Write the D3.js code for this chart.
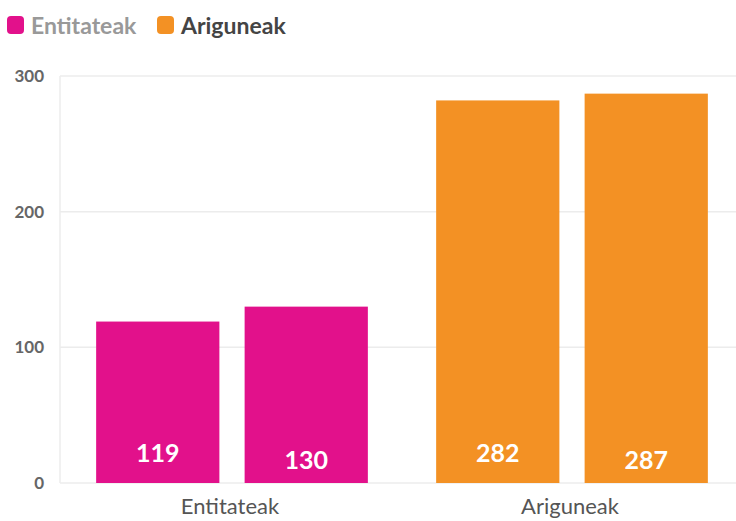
<!DOCTYPE html>
<html>
<head>
<meta charset="utf-8">
<script src="https://cdn.jsdelivr.net/npm/d3@7"></script>
<style>
  body { margin: 0; background: #fff; font-family: Lato, "Open Sans", sans-serif; }
</style>
</head>
<body>
<div id="chart"></div>
<script>
// data
const categories = ["Entitateak", "Ariguneak"]
const series = ["a", "b"]
const values = [[119, 130], [282, 287]]
const colours = ["#e2118b", "#f39124"]
const yTicks = [0, 100, 200, 300]

const width = 736
const height = 521
const margin = {top: 76, right: -6, bottom: 38, left: 60}

const svg = d3.select("#chart").append("svg")
    .attr("width", width)
    .attr("height", height)

const x = d3.scaleBand()
    .domain(categories)
    .range([margin.left + 2, width - margin.right])

const xInner = d3.scaleBand()
    .domain(series)
    .range([0, x.bandwidth()])
    .paddingInner(0.17)
    .paddingOuter(0.23)

const y = d3.scaleLinear()
    .domain([0, 300])
    .range([height - margin.bottom, margin.top])

// gridlines
svg.append("g")
    .selectAll("line")
    .data(yTicks)
    .join("line")
        .attr("x1", margin.left)
        .attr("x2", width)
        .attr("y1", d => y(d))
        .attr("y2", d => y(d))
        .attr("stroke", "#ececec")
        .attr("stroke-width", 1.5)

// left axis line
svg.append("line")
    .attr("x1", margin.left).attr("x2", margin.left)
    .attr("y1", y(300)).attr("y2", y(0))
    .attr("stroke", "#ececec")
    .attr("stroke-width", 1.5)

// y tick labels
svg.append("g")
    .selectAll("text")
    .data(yTicks)
    .join("text")
        .attr("x", 44)
        .attr("y", d => y(d))
        .attr("dy", "0.35em")
        .attr("text-anchor", "end")
        .attr("font-size", 17)
        .attr("font-weight", "bold")
        .attr("fill", "#666")
        .text(d => d)

// bars
const group = svg.append("g")
    .selectAll("g")
    .data(categories)
    .join("g")
        .attr("transform", d => `translate(${x(d)},0)`)

group.selectAll("rect")
    .data((d, i) => values[i].map((v, j) => ({v, s: series[j], c: colours[i]})))
    .join("rect")
        .attr("x", d => xInner(d.s))
        .attr("width", xInner.bandwidth())
        .attr("y", d => y(d.v))
        .attr("height", d => y(0) - y(d.v))
        .attr("fill", d => d.c)

// value labels (second bar sits a bit lower, like the original)
group.selectAll("text")
    .data((d, i) => values[i].map((v, j) => ({v, s: series[j], j})))
    .join("text")
        .attr("x", d => xInner(d.s) + xInner.bandwidth() / 2)
        .attr("y", d => d.j == 0 ? 462 : 469)
        .attr("text-anchor", "middle")
        .attr("font-size", 25)
        .attr("font-weight", "bold")
        .attr("fill", "#fff")
        .text(d => d.v)

// x labels
svg.append("g")
    .selectAll("text")
    .data(categories)
    .join("text")
        .attr("x", d => x(d) + x.bandwidth() / 2 - 2)
        .attr("y", 514)
        .attr("text-anchor", "middle")
        .attr("font-size", 22)
        .attr("fill", "#555")
        .text(d => d)

// legend
const legend = svg.append("g")
const legendX = [7, 157]
const legendText = ["#999", "#444"]
categories.forEach(function(c, i) {
    legend.append("rect")
        .attr("x", legendX[i])
        .attr("y", 16)
        .attr("width", 17)
        .attr("height", 18)
        .attr("rx", 4)
        .attr("fill", colours[i])
    legend.append("text")
        .attr("x", legendX[i] + 24)
        .attr("y", 34)
        .attr("font-size", 23)
        .attr("font-weight", "bold")
        .attr("fill", legendText[i])
        .text(c)
})
</script>
</body>
</html>
